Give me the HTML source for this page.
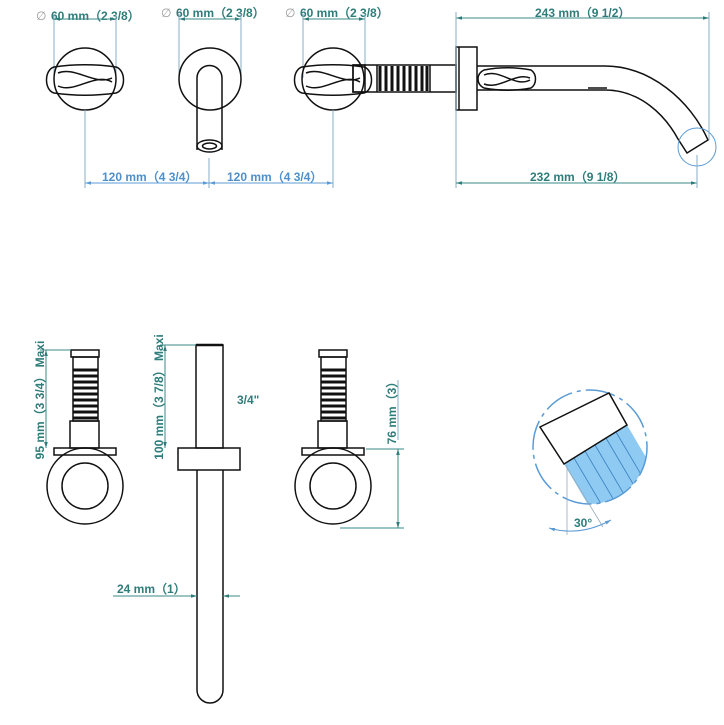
<!DOCTYPE html>
<html><head><meta charset="utf-8"><style>
html,body{margin:0;padding:0;background:#fff;}
svg{display:block;}
.t{font-family:"Liberation Sans",sans-serif;font-weight:bold;font-size:12px;fill:#2e7d7a;}
.tb{font-family:"Liberation Sans",sans-serif;font-weight:bold;font-size:12px;fill:#4f8fca;}
.g{font-family:"Liberation Sans",sans-serif;font-size:12px;fill:#999;}
.k{fill:none;stroke:#111;stroke-width:1.5;}
.d{stroke:#3a8a86;stroke-width:1;fill:none;}
.e{stroke:#8aaec4;stroke-width:1;fill:none;}
.b{stroke:#5b9bd5;stroke-width:1;fill:none;}
</style></head><body>
<svg width="724" height="725" viewBox="0 0 724 725" xmlns="http://www.w3.org/2000/svg">
<defs>
<marker id="a" viewBox="0 0 10 10" refX="10" refY="5" markerWidth="8" markerHeight="6" orient="auto-start-reverse"><path d="M0,2 L10,5 L0,8z" fill="#2e7d7a"/></marker>
<marker id="ab" viewBox="0 0 10 10" refX="10" refY="5" markerWidth="8" markerHeight="6" orient="auto-start-reverse"><path d="M0,2 L10,5 L0,8z" fill="#5b9bd5"/></marker>
</defs>

<text x="36" y="20" class="g">∅</text><text x="51" y="20" class="t">60 mm（2 3/8）</text>
<line x1="54" y1="19" x2="116" y2="19" class="d" marker-start="url(#a)" marker-end="url(#a)"/>
<line x1="54" y1="14" x2="54" y2="78" class="e"/><line x1="116" y1="14" x2="116" y2="78" class="e"/>
<text x="161" y="17" class="g">∅</text><text x="176" y="17" class="t">60 mm（2 3/8）</text>
<line x1="179" y1="19" x2="241" y2="19" class="d" marker-start="url(#a)" marker-end="url(#a)"/>
<line x1="179" y1="14" x2="179" y2="78" class="e"/><line x1="241" y1="14" x2="241" y2="78" class="e"/>
<text x="285" y="17" class="g">∅</text><text x="300" y="17" class="t">60 mm（2 3/8）</text>
<line x1="303" y1="19" x2="365" y2="19" class="d" marker-start="url(#a)" marker-end="url(#a)"/>
<line x1="303" y1="14" x2="303" y2="78" class="e"/><line x1="365" y1="14" x2="365" y2="78" class="e"/>

<circle cx="85" cy="79" r="31" class="k" fill="#fff"/>
<path d="M54,67 C75,64 95,64 116,67 C126,70 126,90 116,93 C95,96 75,96 54,93 C44,90 44,70 54,67z" class="k" fill="#fff"/>
<path d="M58,73 C75,66 95,86 112,78 M58,86 C75,94 95,72 112,82" class="k" stroke-width="1.2"/>
<circle cx="210" cy="79" r="31" class="k" fill="#fff"/>
<path d="M197,150 L197,78 A12.5,12.5 0 0 1 222,78 L222,150" class="k" fill="#fff"/>
<ellipse cx="209.5" cy="146" rx="12.5" ry="6" class="k" fill="#fff" stroke-width="2.5"/>
<ellipse cx="209.5" cy="146" rx="7" ry="3" class="k"/>
<circle cx="333" cy="79" r="31" class="k" fill="#fff"/>
<path d="M302,67 C323,64 343,64 364,67 C374,70 374,90 364,93 C343,96 323,96 302,93 C292,90 292,70 302,67z" class="k" fill="#fff"/>
<path d="M306,73 C323,66 343,86 360,78 M306,86 C323,94 343,72 360,82" class="k" stroke-width="1.2"/>
<rect x="353" y="65" width="103" height="27" class="k" fill="#fff"/>
<rect x="353" y="65" width="12" height="27" class="k"/>
<g stroke="#111" stroke-width="3">
<line x1="380" y1="66" x2="380" y2="91"/><line x1="386" y1="66" x2="386" y2="91"/><line x1="392" y1="66" x2="392" y2="91"/><line x1="398" y1="66" x2="398" y2="91"/><line x1="404" y1="66" x2="404" y2="91"/><line x1="410" y1="66" x2="410" y2="91"/><line x1="416" y1="66" x2="416" y2="91"/><line x1="422" y1="66" x2="422" y2="91"/><line x1="427" y1="66" x2="427" y2="91"/>
</g>
<line x1="377" y1="65" x2="377" y2="92" class="k"/><line x1="430" y1="65" x2="430" y2="92" class="k"/>
<rect x="456" y="47" width="21" height="63" class="k" fill="#fff"/>
<line x1="459" y1="47" x2="459" y2="110" class="k" stroke-width="1"/>
<path d="M477,66 L605,66 C650,66 690,100 708,140 L687,153 L678,139 C665,115 640,90 605,90 L477,90" class="k" fill="#fff"/>
<path d="M484,70 C500,67 515,67 531,70 C537,74 537,84 531,88 C515,91 500,91 484,88 C476,84 476,74 484,70z" class="k" fill="#fff"/>
<path d="M484,75 C500,68 515,88 530,80 M484,84 C500,90 515,72 530,78" class="k" stroke-width="1.2"/>
<line x1="588" y1="88" x2="607" y2="88" class="k" stroke-width="1"/>
<circle cx="697" cy="147" r="19" class="b" stroke-width="1.5"/>
<text x="535" y="17" class="t">243 mm（9 1/2）</text>
<line x1="456" y1="18" x2="709" y2="18" class="d" marker-start="url(#a)" marker-end="url(#a)"/>
<line x1="456" y1="12" x2="456" y2="188" class="e"/><line x1="709" y1="12" x2="709" y2="140" class="e"/>
<text x="530" y="181" class="t">232 mm（9 1/8）</text>
<line x1="456" y1="183" x2="697" y2="183" class="d" marker-start="url(#a)" marker-end="url(#a)"/>
<line x1="697" y1="155" x2="697" y2="188" class="e"/>
<line x1="85" y1="110" x2="85" y2="188" class="e"/><line x1="209" y1="158" x2="209" y2="188" class="e"/><line x1="333" y1="110" x2="333" y2="188" class="e"/>
<line x1="85" y1="183" x2="209" y2="183" class="b" marker-start="url(#ab)" marker-end="url(#ab)"/>
<line x1="209" y1="183" x2="333" y2="183" class="b" marker-start="url(#ab)" marker-end="url(#ab)"/>
<text x="102" y="181" class="tb">120 mm（4 3/4）</text>
<text x="227" y="181" class="tb">120 mm（4 3/4）</text>

<g id="v">
<rect x="71" y="350" width="28" height="7" class="k" fill="#fff"/>
<rect x="73" y="357" width="25" height="64" class="k" fill="#fff"/>
<g stroke="#111" stroke-width="3"><line x1="73" y1="370" x2="98" y2="370"/><line x1="73" y1="376" x2="98" y2="376"/><line x1="73" y1="382" x2="98" y2="382"/><line x1="73" y1="388" x2="98" y2="388"/><line x1="73" y1="394" x2="98" y2="394"/><line x1="73" y1="400" x2="98" y2="400"/><line x1="73" y1="406" x2="98" y2="406"/><line x1="73" y1="412" x2="98" y2="412"/><line x1="73" y1="418" x2="98" y2="418"/></g>
<rect x="70" y="421" width="29" height="27" class="k" fill="#fff"/>
<rect x="54" y="448" width="62" height="7" class="k" fill="#fff"/>
<circle cx="85" cy="486" r="38" class="k"/>
<circle cx="85" cy="486" r="23" class="k"/>
</g>
<line x1="40" y1="350" x2="71" y2="350" class="d"/>
<line x1="46" y1="350" x2="46" y2="448" class="d" marker-start="url(#a)" marker-end="url(#a)"/>
<text transform="translate(44,400) rotate(-90)" text-anchor="middle" class="t">95 mm（3 3/4） Maxi</text>
<use href="#v" transform="translate(248,0)"/>
<line x1="366" y1="449" x2="404" y2="449" class="d"/>
<line x1="340" y1="528" x2="404" y2="528" class="d"/>
<line x1="398" y1="449" x2="398" y2="528" class="d" marker-start="url(#a)" marker-end="url(#a)"/>
<line x1="398" y1="380" x2="398" y2="440" class="e" stroke="#c8d8e0"/>
<text transform="translate(396,410) rotate(-90)" text-anchor="middle" class="t">76 mm（3）</text>

<rect x="196" y="345" width="27" height="103" class="k" fill="#fff"/>
<line x1="196" y1="345" x2="223" y2="345" stroke="#111" stroke-width="2.5"/>
<rect x="178" y="448" width="62" height="22" class="k" fill="#fff"/>
<path d="M197,470 L197,690 A13,13 0 0 0 223,690 L223,470" class="k"/>
<line x1="160" y1="345" x2="196" y2="345" class="d"/>
<line x1="165" y1="345" x2="165" y2="448" class="d" marker-start="url(#a)" marker-end="url(#a)"/>
<text transform="translate(163,397) rotate(-90)" text-anchor="middle" class="t">100 mm（3 7/8） Maxi</text>
<text x="237" y="404" class="t">3/4"</text>
<text x="117" y="593" class="t">24 mm（1）</text>
<line x1="113" y1="596" x2="197" y2="596" class="d" marker-end="url(#a)"/>
<line x1="223" y1="596" x2="240" y2="596" class="d" marker-start="url(#a)"/>

<clipPath id="c"><circle cx="590" cy="447" r="57"/></clipPath>
<g clip-path="url(#c)">
<path d="M564,464 L627,425 L680,515 L617,554z" fill="#8fcaf2" stroke="none"/>
<g stroke="#3b7fc0" stroke-width="0.8">
<line x1="574" y1="458" x2="627" y2="548"/><line x1="585" y1="451" x2="638" y2="541"/><line x1="595" y1="445" x2="648" y2="535"/><line x1="606" y1="438" x2="659" y2="528"/><line x1="616" y1="432" x2="669" y2="522"/>
</g>
</g>
<circle cx="590" cy="447" r="57" fill="none" stroke="#5b9bd5" stroke-width="1.5" stroke-dasharray="30,5,4,5"/>
<path d="M540,427 L609,393 L627,425 L564,464 Z" fill="#fff" stroke="#111" stroke-width="1.5"/>
<line x1="567" y1="465" x2="567" y2="535" stroke="#9ab" stroke-width="0.8"/>
<line x1="566" y1="466" x2="603" y2="527" stroke="#9ab" stroke-width="0.8"/>
<path d="M549,528 Q580,537 611,520" fill="none" stroke="#5b9bd5" stroke-width="1" marker-start="url(#ab)" marker-end="url(#ab)"/>
<text x="574" y="527" class="t">30°</text>
</svg>
</body></html>
